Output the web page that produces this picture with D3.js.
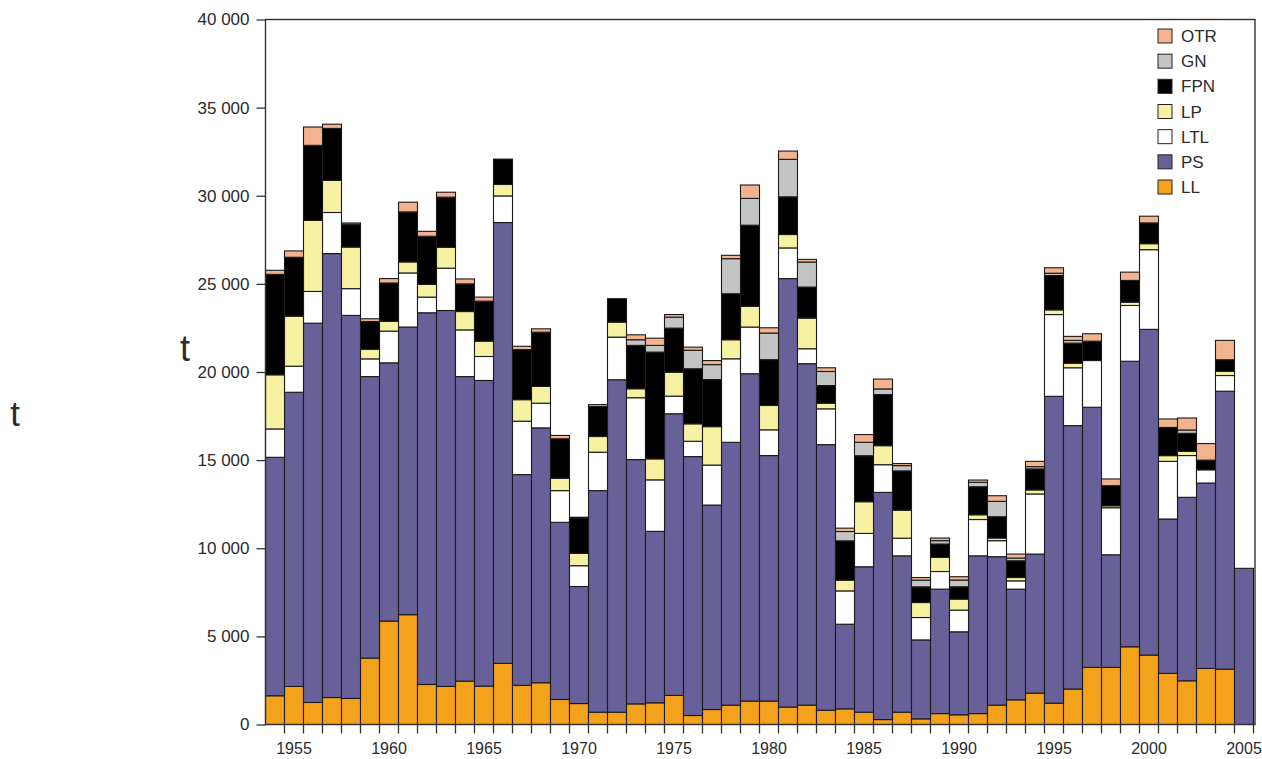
<!DOCTYPE html>
<html>
<head>
<meta charset="utf-8">
<script src="https://cdn.jsdelivr.net/npm/d3@7"></script>
<style>
  html, body { margin: 0; padding: 0; background: #ffffff; }
  svg { display: block; }
  text { font-family: "Liberation Sans", Arial, Helvetica, sans-serif; fill: #2b2b2b; }
</style>
</head>
<body>
<svg id="chart" width="1262" height="759"></svg>
<script>
const years = d3.range(1954, 2006);
const seriesNames = ["LL", "PS", "LTL", "LP", "FPN", "GN", "OTR"];
const legendOrder = ["OTR", "GN", "FPN", "LP", "LTL", "PS", "LL"];
const colors = ["#F4A11C", "#686099", "#FFFFFF", "#F6F2A2", "#000000", "#C4C4C4", "#F2B38E"];

const LL  = [1630,2160,1250,1530,1480,3770,5870,6230,2270,2160,2460,2180,3470,2220,2370,1420,1190,700,700,1170,1230,1650,510,850,1100,1330,1330,990,1100,810,890,700,280,700,320,620,550,620,1100,1400,1780,1210,2010,3240,3240,4410,3940,2900,2480,3180,3140,0];
const PS  = [13530,16690,21520,25190,21730,15970,14650,16320,21090,21330,17280,17340,25010,11960,14460,10050,6640,12570,18860,13860,9730,15980,14690,11600,14910,18570,13930,24310,19370,15070,4800,8250,12890,8870,4480,7060,4710,8950,8420,6280,7890,17410,14950,14760,6390,16200,18480,8760,10410,10520,15770,8860];
const LTL = [1610,1480,1800,2330,1520,1005,1800,3070,890,2400,2650,1360,1510,3030,1400,1800,1180,2180,2420,3510,2920,1000,870,2270,4740,2650,1460,1740,850,2030,1890,1890,1570,1000,1270,1000,1230,2060,910,470,3410,4640,3280,2650,2670,3165,4520,3270,2370,750,890,0];
const LP  = [3070,2840,4030,1820,2360,545,550,625,720,1190,1040,870,650,1220,950,700,700,890,850,510,1190,1360,990,2180,1080,1180,1380,760,1740,320,610,1800,1080,1590,850,800,625,270,150,190,230,265,260,0,110,190,340,325,240,0,245,0];
const FPN = [5700,3340,4260,2950,1290,1575,2180,2840,2730,2840,1570,2270,1440,2840,3080,2240,2010,1700,1330,2460,6060,2500,3125,2670,2610,4600,2600,2140,1760,1000,2230,2610,2900,2230,890,760,700,1590,1210,950,1190,1950,1140,1100,1140,1230,1180,1600,1020,550,650,0];
const GN  = [0,0,0,0,0,0,0,0,0,0,0,0,0,0,0,0,0,0,0,320,380,620,1050,850,1990,1520,1510,2125,1420,800,530,760,320,300,380,190,380,250,870,150,130,130,150,0,0,0,0,0,190,0,0,0];
const OTR = [230,360,1040,240,75,155,250,550,280,280,280,230,0,190,190,190,40,110,0,280,410,150,176,230,190,760,300,470,150,210,190,440,560,115,150,150,190,130,320,230,300,310,230,420,380,470,380,480,680,940,1100,0];

const yTicks = [0, 5000, 10000, 15000, 20000, 25000, 30000, 35000, 40000];
const xLabelYears = [1955, 1960, 1965, 1970, 1975, 1980, 1985, 1990, 1995, 2000, 2005];
const axisTitle = "t";

const seriesValues = { LL, PS, LTL, LP, FPN, GN, OTR };
const table = years.map((yr, i) => {
  const row = { year: yr };
  seriesNames.forEach(k => row[k] = seriesValues[k][i]);
  return row;
});

const svg = d3.select("#chart");
const plotLeft = 265.5, plotRight = 1255, plotTop = 19.5, plotBottom = 724.5;
const barsRight = 1253.5;

const x = d3.scaleBand().domain(years).range([plotLeft, barsRight]).padding(0);
const y = d3.scaleLinear().domain([0, 40000]).range([plotBottom, plotTop]);
const color = d3.scaleOrdinal().domain(seriesNames).range(colors);

const stacked = d3.stack().keys(seriesNames)(table);

// bars
const g = svg.append("g");
g.selectAll("g.layer")
  .data(stacked)
  .join("g")
  .attr("class", "layer")
  .attr("fill", d => color(d.key))
  .selectAll("rect")
  .data(d => d.filter(s => s[1] - s[0] > 0))
  .join("rect")
  .attr("x", d => x(d.data.year))
  .attr("width", x.bandwidth())
  .attr("y", d => y(d[1]))
  .attr("height", d => y(d[0]) - y(d[1]))
  .attr("stroke", "#1a1a1a")
  .attr("stroke-width", 1.1);

// frame
svg.append("rect")
  .attr("x", plotLeft).attr("y", plotTop)
  .attr("width", plotRight - plotLeft).attr("height", plotBottom - plotTop)
  .attr("fill", "none").attr("stroke", "#333").attr("stroke-width", 1.4);

// y axis
const fmt = d3.formatLocale({ decimal: ".", thousands: " ", grouping: [3], currency: ["", ""] }).format(",");
const yAxis = svg.append("g")
  .attr("transform", `translate(${plotLeft},0)`)
  .call(d3.axisLeft(y).tickValues(yTicks).tickSize(9).tickPadding(7).tickFormat(fmt));
yAxis.select(".domain").remove();
yAxis.selectAll(".tick line").attr("stroke", "#333").attr("stroke-width", 1.3);
yAxis.selectAll(".tick text").style("font-size", "17px").attr("fill", "#2b2b2b");

// x ticks at bar boundaries
const boundaries = years.slice(1).map(yr => x(yr)).concat([barsRight]);
svg.append("g").selectAll("line")
  .data(boundaries)
  .join("line")
  .attr("x1", d => d).attr("x2", d => d)
  .attr("y1", plotBottom).attr("y2", plotBottom + 9)
  .attr("stroke", "#333").attr("stroke-width", 1.3);

// x labels centered under bars
const xAxis = svg.append("g")
  .attr("transform", `translate(0,${plotBottom})`)
  .call(d3.axisBottom(x).tickValues(xLabelYears).tickSize(0).tickPadding(18));
xAxis.select(".domain").remove();
xAxis.selectAll(".tick text").style("font-size", "16px").attr("fill", "#2b2b2b");

// axis titles "t"
svg.append("text").attr("x", 185).attr("y", 361).attr("text-anchor", "middle")
  .style("font-size", "36px").text(axisTitle);
svg.append("text").attr("x", 15).attr("y", 426).attr("text-anchor", "middle")
  .style("font-size", "35px").text(axisTitle);

// legend
const legend = svg.append("g");
const legY = d3.scalePoint().domain(legendOrder).range([36, 187]);
const items = legend.selectAll("g").data(legendOrder).join("g")
  .attr("transform", d => `translate(1158,${legY(d)})`);
items.append("rect").attr("x", 0).attr("y", -7).attr("width", 14).attr("height", 14)
  .attr("fill", d => color(d)).attr("stroke", "#222").attr("stroke-width", 1);
items.append("text").attr("x", 23).attr("y", 0).attr("dy", "0.36em")
  .style("font-size", "17px").text(d => d);
</script>
</body>
</html>
